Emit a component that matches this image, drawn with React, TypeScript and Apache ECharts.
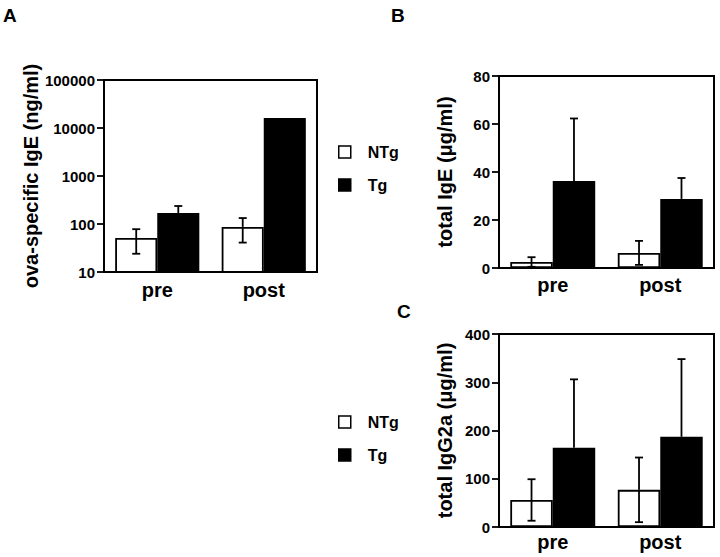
import React, { useEffect, useRef } from "react";
import * as echarts from "echarts";

const categories = ["pre", "post"];

// Panel A (log scale, ng/ml)
const aNTg = [51, 87];
const aNTgErr = [27, 46];
const aTg = [170, 16200];
const aTgErr = [67, 0];
const aTicks = [10, 100, 1000, 10000, 100000];

// Panel B (µg/ml)
const bNTg = [2.5, 6.3];
const bNTgErr = [2, 5];
const bTg = [36.3, 28.8];
const bTgErr = [26, 8.7];

// Panel C (µg/ml)
const cNTg = [56, 77];
const cNTgErr = [43, 67];
const cTg = [164, 187];
const cTgErr = [142, 161];

const FONT = "Liberation Sans";
const CAT_GAP = 0.21;

function errSeries(idx: number, vals: number[], errs: number[], which: "NTg" | "Tg", logAxis: boolean) {
  return {
    type: "custom",
    name: "err-" + which + "-" + idx,
    xAxisIndex: idx,
    yAxisIndex: idx,
    z: 5,
    silent: true,
    encode: { x: 0, y: 1 },
    data: vals.map((v, i) => [i, v, errs[i]]),
    renderItem: (params: any, api: any) => {
      const xi = api.value(0);
      const v = api.value(1);
      const e = api.value(2);
      if (!e) return null;
      const band = api.size([1, 0])[0];
      const barW = (band * (1 - CAT_GAP)) / 2;
      const off = which === "NTg" ? -barW / 2 : barW / 2;
      const top = api.coord([xi, v]);
      const hi = api.coord([xi, v + e]);
      const loVal = logAxis ? Math.max(v - e, 10) : Math.max(v - e, 0);
      const lo = api.coord([xi, loVal]);
      const x = top[0] + off;
      const cap = 4;
      const style = { stroke: "#000", lineWidth: 1.8 };
      const children: any[] = [
        { type: "line", shape: { x1: x, y1: hi[1], x2: x, y2: top[1] }, style },
        { type: "line", shape: { x1: x - cap, y1: hi[1], x2: x + cap, y2: hi[1] }, style },
      ];
      if (which === "NTg") {
        children.push({ type: "line", shape: { x1: x, y1: top[1], x2: x, y2: lo[1] }, style });
        children.push({ type: "line", shape: { x1: x - cap, y1: lo[1], x2: x + cap, y2: lo[1] }, style });
      }
      return { type: "group", children };
    },
  };
}

function barSeries(idx: number, name: string, vals: number[]) {
  const white = name === "NTg";
  return {
    type: "bar",
    name,
    xAxisIndex: idx,
    yAxisIndex: idx,
    data: vals,
    barGap: "0%",
    barCategoryGap: CAT_GAP * 100 + "%",
    clip: true,
    itemStyle: {
      color: white ? "#fff" : "#000",
      borderColor: "#000",
      borderWidth: 1.8,
    },
  };
}

const axisText = { fontFamily: FONT, fontWeight: "bold" as const, color: "#000" };

function xAxis(idx: number, margin: number) {
  return {
    type: "category",
    gridIndex: idx,
    data: categories,
    axisTick: { show: false },
    axisLine: { lineStyle: { color: "#000", width: 2 } },
    axisLabel: { ...axisText, fontSize: 20, margin },
  };
}

function yAxisBase(idx: number, name: string, nameGap: number) {
  return {
    gridIndex: idx,
    name,
    nameLocation: "middle",
    nameRotate: 90,
    nameGap,
    nameTextStyle: { ...axisText, fontSize: 20 },
    splitLine: { show: false },
    axisLine: { show: true, lineStyle: { color: "#000", width: 2 } },
    axisTick: { show: true, inside: false, length: 7, lineStyle: { color: "#000", width: 1.8 } },
    axisLabel: { ...axisText, fontSize: 15, margin: 9, formatter: (v: number) => String(Math.round(v)) },
  };
}

const legendData = [
  { name: "NTg", itemStyle: { color: "#fff", borderColor: "#000", borderWidth: 1.5 } },
  { name: "Tg", itemStyle: { color: "#000", borderColor: "#000", borderWidth: 1.5 } },
];

function legend(top: number) {
  return {
    orient: "vertical",
    left: 333,
    top,
    data: legendData,
    icon: "rect",
    itemWidth: 12,
    itemHeight: 12,
    itemGap: 17,
    selectedMode: false,
    formatter: (n: string) => "{s|}{t|" + n + "}",
    textStyle: {
      ...axisText,
      fontSize: 16,
      lineHeight: 16,
      rich: {
        s: { width: 12 },
        t: { ...axisText, fontSize: 16, lineHeight: 16 },
      },
    },
  };
}

export default function App() {
  const ref = useRef<HTMLDivElement>(null);
  useEffect(() => {
    document.body.style.margin = "0";
    if (!ref.current) return;
    const chart = echarts.init(ref.current, null, { renderer: "svg" });
    const gridStyle = { show: true, borderColor: "#000", borderWidth: 2, backgroundColor: "transparent" };
    chart.setOption({
      animation: false,
      backgroundColor: "#fff",
      grid: [
        { left: 104, top: 80, width: 213, height: 192, ...gridStyle },
        { left: 499, top: 76, width: 215, height: 192, ...gridStyle },
        { left: 499, top: 334, width: 215, height: 193, ...gridStyle },
      ],
      xAxis: [xAxis(0, 8), xAxis(1, 7), xAxis(2, 5)],
      yAxis: [
        { ...yAxisBase(0, "ova-specific IgE (ng/ml)", 56), type: "log", logBase: 10, min: aTicks[0], max: aTicks[aTicks.length - 1] },
        { ...yAxisBase(1, "total IgE (μg/ml)", 44), type: "value", min: 0, max: 80, interval: 20 },
        { ...yAxisBase(2, "total IgG2a (μg/ml)", 44), type: "value", min: 0, max: 400, interval: 100 },
      ],
      legend: [legend(139), legend(409)],
      graphic: [
        { type: "text", left: 3, top: 6, style: { text: "A", font: `bold 19px "${FONT}"`, fill: "#000" } },
        { type: "text", left: 391, top: 6, style: { text: "B", font: `bold 19px "${FONT}"`, fill: "#000" } },
        { type: "text", left: 397, top: 302, style: { text: "C", font: `bold 19px "${FONT}"`, fill: "#000" } },
      ],
      series: [
        barSeries(0, "NTg", aNTg),
        barSeries(0, "Tg", aTg),
        errSeries(0, aNTg, aNTgErr, "NTg", true),
        errSeries(0, aTg, aTgErr, "Tg", true),
        barSeries(1, "NTg", bNTg),
        barSeries(1, "Tg", bTg),
        errSeries(1, bNTg, bNTgErr, "NTg", false),
        errSeries(1, bTg, bTgErr, "Tg", false),
        barSeries(2, "NTg", cNTg),
        barSeries(2, "Tg", cTg),
        errSeries(2, cNTg, cNTgErr, "NTg", false),
        errSeries(2, cTg, cTgErr, "Tg", false),
      ],
    });
    return () => chart.dispose();
  }, []);
  return <div ref={ref} style={{ width: 720, height: 557 }} />;
}
